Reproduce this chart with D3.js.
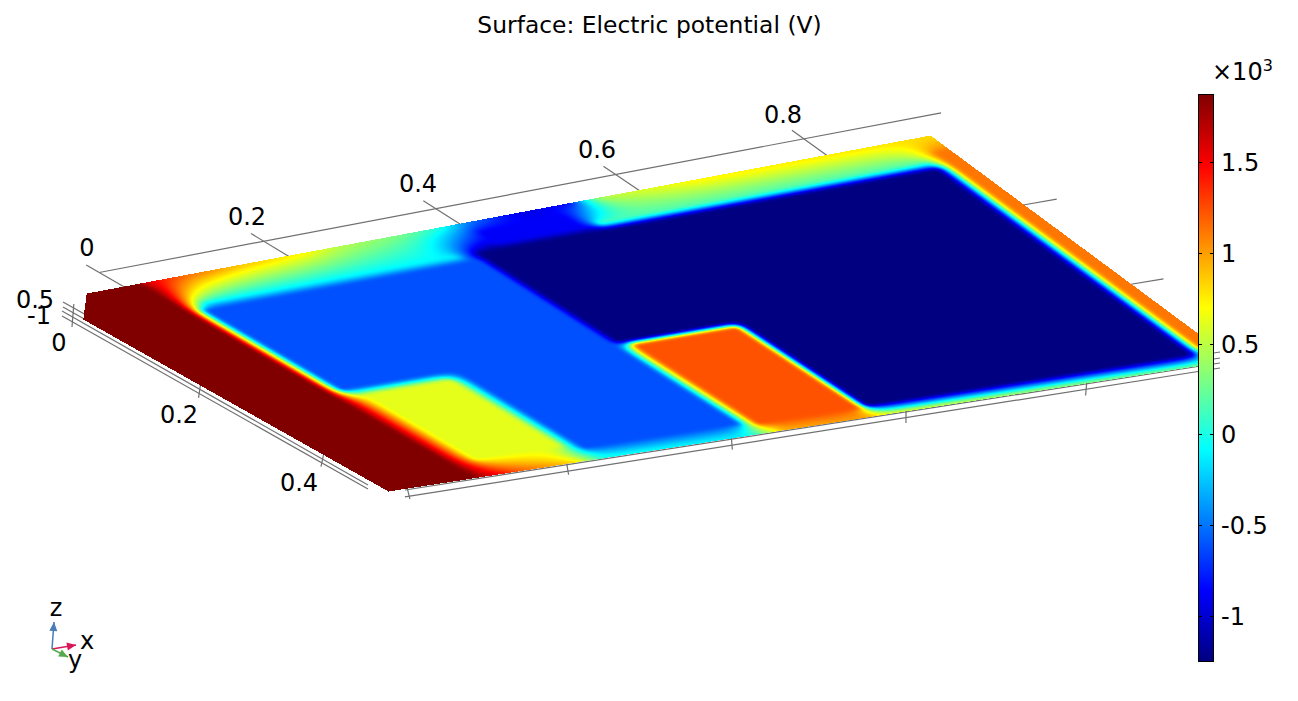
<!DOCTYPE html>
<html><head><meta charset="utf-8"><title>Surface: Electric potential (V)</title>
<script src="https://cdn.jsdelivr.net/npm/d3@7"></script>
<style>html,body{margin:0;padding:0;background:#fff;overflow:hidden}svg{display:block}text{font-family:"DejaVu Sans";fill:#000}</style>
</head><body><div id="chart"></div>
<script>
// ---- data ----
const chartTitle = "Surface: Electric potential (V)";
const colorTicks = [1.5, 1, 0.5, 0, -0.5, -1];
const colorTickLabels = ["1.5", "1", "0.5", "0", "-0.5", "-1"];
const colorMin = -1.248, colorMax = 1.869;
const jetStops = [0, 0.125, 0.375, 0.625, 0.875, 1];
const jetColors = ["#000080", "#0000ff", "#00ffff", "#ffff00", "#ff0000", "#800000"];
// plate regions held at a constant potential (kV), in plate fractions u (along x) and v (along y)
const regionU0 = [0,     0.132,  0.272,  0.145, 0.478, 0.468,  0.608,  0.615, 0.140, 0.984, 0.50];
const regionU1 = [0.112, 0.460,  0.460,  0.252, 0.597, 0.968,  0.968,  0.960, 0.445, 1.000, 0.595];
const regionV0 = [0,     0.140,  0.540,  0.575, 0.555, 0.115,  0.535,  0.088, 0.115, 0.060, 0.040];
const regionV1 = [1,     0.540,  0.945,  0.920, 0.955, 0.535,  0.950,  0.090, 0.117, 0.930, 0.095];
const regionV  = [1.869, -0.615, -0.615, 0.62,  1.23,  -1.248, -1.248, 0.15,  -0.10, 1.12,  -0.88];
// potential along the plate edges
const backU = [0.12, 0.163, 0.236, 0.308, 0.35, 0.425, 0.47, 0.505, 0.562, 0.618, 0.635, 0.651, 0.76, 0.995];
const backV = [1.6,  1.2,   0.9,   0.75,  0.5,  0.3,   0.05, -0.5,  -0.95, -0.85, 0,     0.5,   0.75, 0.8];
const frontU = [0.107, 0.171, 0.2376, 0.274, 0.347, 0.445, 0.47, 0.494, 0.589, 0.612, 0.749, 0.955];
const frontV = [1.869, 1.2,   0.85,   0.0,   -0.05, -0.1,  0.3,  0.95,  1.0,   0.75,  0.55,  0.35];
// axes, in the same plate fractions
const xTicks = [0, 0.2, 0.4, 0.6, 0.8];
const xTickLabels = ["0", "0.2", "0.4", "0.6", "0.8"];
const yTickLabels = ["0", "0.2", "0.4"];
const yTickV = [0.1153, 0.477, 0.847];
const backAxisV = -0.065, backAxisU = [0.0928, 1.033];
const frontTickU = [0.0078, 0.2115, 0.4135, 0.619, 0.8228];
const rightTickV = [0.2923, 0.6439];
const leftBundle = [[0.00995, 0.0168, 0.012, 0.91], [0.0015, 0.0351, 0.002, 0.93], [-0.0062, 0.0491, -0.0096, 0.9597], [-0.01476, 0.0676, -0.0169, 0.9774]];
const frontBundle = [[0.5, 0.975, 0.9972, 0.9594], [0.5, 0.99, 0.990, 0.9833], [0.0193, 1.0072, 0.984, 1.0033], [0.0065, 1.038, 0.978, 1.0234]];

// ---- plate projection ----
const a=783.3,b=369.7,c=49,d=-179.18,e=229.85,f=300,g=-0.10505,h=0.07912;
const project=(u,v)=>{const w=g*u+h*v+1;return [(a*u+b*v+c)/w,(d*u+e*v+f)/w];};
const unproject=(x,y)=>{const w=9.969*x-100.81*y+246285;return [(206.11*x-365.82*y+99647)/w,(147.66*x+788.45*y-243770)/w];};

// ---- colour ----
const jetPos = d3.scaleLinear().domain([colorMin,colorMax]).range([0,1]).clamp(true);
const jet = d3.scaleLinear().domain(jetStops).range(jetColors).interpolate(d3.interpolateRgb);
const lut = d3.range(1025).map(i=>{const q=d3.rgb(jet(i/1024));return [q.r,q.g,q.b];});

// ---- field on the plate: fixed regions and edges, relaxed in between ----
const NU=640,NV=320,W=NU+1,H=NV+1;
const field=new Float32Array(W*H).fill(0),fixed=new Uint8Array(W*H);
const uOf=d3.scaleLinear().domain([0,NU]).range([0,1]),vOf=d3.scaleLinear().domain([0,NV]).range([0,1]);
const backScale=d3.scaleLinear().domain(backU).range(backV).clamp(true);
const frontScale=d3.scaleLinear().domain(frontU).range(frontV).clamp(true);
for(let i=0;i<W;i++){const u=uOf(i);
  field[i]=backScale(u);fixed[i]=1;
  field[NV*W+i]=frontScale(u);fixed[NV*W+i]=1;}
regionV.forEach((val,k)=>{
  const i0=Math.round(uOf.invert(regionU0[k])),i1=Math.round(uOf.invert(regionU1[k]));
  const j0=Math.round(vOf.invert(regionV0[k])),j1=Math.round(vOf.invert(regionV1[k]));
  for(let j=j0;j<=j1;j++)for(let i=i0;i<=i1;i++){field[j*W+i]=val;fixed[j*W+i]=1;}
});
for(let it=0;it<420;it++){
  for(let j=1;j<NV;j++)for(let i=0;i<=NU;i++){
    const p=j*W+i;if(fixed[p])continue;
    const l=i>0?field[p-1]:field[p+1],r=i<NU?field[p+1]:field[p-1];
    field[p]+=1.85*((l+r+field[p-W]+field[p+W])/4-field[p]);
  }
}
// soften the contour corners
function soften(src,r){
  const tmp=new Float32Array(src.length),out=new Float32Array(src.length);
  for(let j=0;j<H;j++)for(let i=0;i<W;i++){let s=0,n=0;for(let k=-r;k<=r;k++){const q=i+k;if(q<0||q>NU)continue;s+=src[j*W+q];n++;}tmp[j*W+i]=s/n;}
  for(let j=0;j<H;j++)for(let i=0;i<W;i++){let s=0,n=0;for(let k=-r;k<=r;k++){const q=j+k;if(q<0||q>NV)continue;s+=tmp[q*W+i];n++;}out[j*W+i]=s/n;}
  return out;
}
const smooth=soften(soften(field,2),2);

// ---- rasterise the projected plate ----
const cv=document.createElement("canvas");cv.width=1298;cv.height=701;
const ctx=cv.getContext("2d"),img=ctx.createImageData(1298,701);
for(let y=120;y<500;y++)for(let x=80;x<1198;x++){
  const [u,v]=unproject(x,y);
  if(u<0||u>1||v<0||v>1)continue;
  if(u/0.047+v/0.093<1)continue;
  const fu=u*NU,fv=v*NV,i=Math.min(NU-1,Math.floor(fu)),j=Math.min(NV-1,Math.floor(fv)),tu=fu-i,tv=fv-j;
  const val=(1-tv)*((1-tu)*smooth[j*W+i]+tu*smooth[j*W+i+1])+tv*((1-tu)*smooth[(j+1)*W+i]+tu*smooth[(j+1)*W+i+1]);
  const q=lut[Math.round(jetPos(val)*1024)],p=(y*1298+x)*4;
  img.data[p]=q[0];img.data[p+1]=q[1];img.data[p+2]=q[2];img.data[p+3]=255;
}
ctx.putImageData(img,0,0);

// ---- svg ----
const svg=d3.select("#chart").append("svg").attr("width",1298).attr("height",701);
const axisColor="#707070";
const axes=svg.append("g").attr("stroke",axisColor).attr("stroke-width",1.2).attr("fill","none");
const seg=(u1,v1,u2,v2)=>{const P=project(u1,v1),Q=project(u2,v2);
  axes.append("line").attr("x1",P[0]).attr("y1",P[1]).attr("x2",Q[0]).attr("y2",Q[1]);};
seg(backAxisU[0],backAxisV,backAxisU[1],backAxisV);
xTicks.forEach(t=>seg(t+0.0928,-0.1,t+0.0928,0.01));
rightTickV.forEach(t=>seg(0.99,t,1.0333,t));
leftBundle.forEach(l=>seg(...l));
frontBundle.forEach(l=>seg(...l));
yTickV.forEach(t=>seg(0.017,t-0.084,-0.024,t));
frontTickU.forEach(t=>seg(t+0.018,0.998,t,1.051));

svg.append("image").attr("x",0).attr("y",0).attr("width",1298).attr("height",701)
  .attr("href",cv.toDataURL("image/png")).style("image-rendering","pixelated");

const fs=24;
const label=(t,x,y,anchor,size)=>svg.append("text").attr("x",x).attr("y",y).attr("text-anchor",anchor||"middle").attr("font-size",size||fs).text(t);
label(chartTitle,649.5,33,"middle",23.4);
// axis number labels
const xLabelX=[87,247,418,597,783],xLabelY=[256,225,192,158,123];
xTickLabels.forEach((t,i)=>label(t,xLabelX[i],xLabelY[i]));
const yLabelX=[59,179,299],yLabelY=[351,423,491];
yTickLabels.forEach((t,i)=>label(t,yLabelX[i],yLabelY[i]));
label("0.5",35,308);
label("-1",39,324);

// colour bar
const barY=d3.scaleLinear().domain([colorMax,colorMin]).range([95,661]);
const bar=svg.append("g");
bar.selectAll("rect").data(d3.range(95,661)).join("rect")
  .attr("x",1199).attr("width",14).attr("y",d=>d).attr("height",1.2)
  .attr("fill",d=>jet(jetPos(barY.invert(d+0.5))));
bar.append("rect").attr("x",1198.5).attr("y",94.5).attr("width",15).attr("height",567).attr("fill","none").attr("stroke","#000");
colorTicks.forEach((t,i)=>{
  const y=Math.round(barY(t))+0.5;
  bar.append("path").attr("d",`M1199,${y}H1202M1210,${y}H1213`).attr("stroke","#000").attr("fill","none");
  label(colorTickLabels[i],1221,y+8.5,"start");
});
const mult=label("",1212,80,"start");
mult.append("tspan").text("×10");
mult.append("tspan").attr("font-size",16).attr("dy",-9).text("3");

// coordinate triad
const triadO=[52,649];
const triad=[{name:"z",to:[54,622],col:"#4a7db5",lx:56,ly:616},{name:"x",to:[76,645],col:"#d8175a",lx:87,ly:649},{name:"y",to:[68,657],col:"#55a84f",lx:75,ly:668}];
triad.forEach(t=>{
  svg.append("line").attr("x1",triadO[0]).attr("y1",triadO[1]).attr("x2",t.to[0]).attr("y2",t.to[1]).attr("stroke",t.col).attr("stroke-width",1.5);
  const dx=t.to[0]-triadO[0],dy=t.to[1]-triadO[1],L=Math.hypot(dx,dy),ux=dx/L,uy=dy/L,bx=t.to[0]-ux*9,by=t.to[1]-uy*9;
  svg.append("path").attr("d",`M${t.to[0]},${t.to[1]}L${bx-uy*4},${by+ux*4}L${bx+uy*4},${by-ux*4}Z`).attr("fill",t.col);
  label(t.name,t.lx,t.ly);
});
</script></body></html>
